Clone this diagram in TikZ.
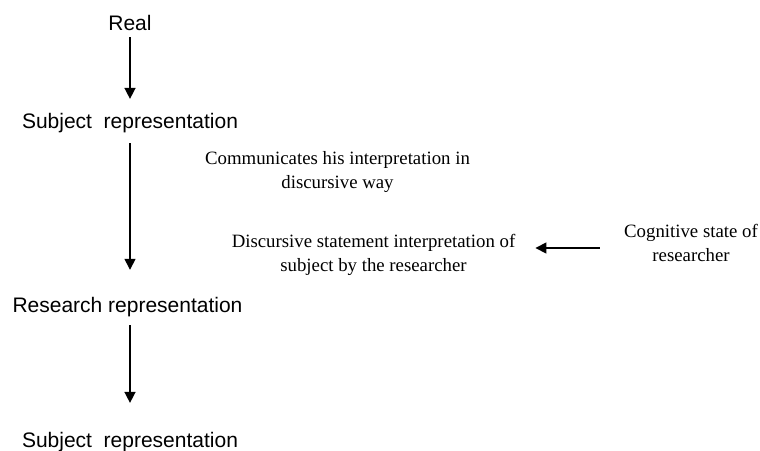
\documentclass[tikz,border=0pt]{standalone}
\usepackage{fontspec}
\setmainfont{Liberation Serif}
\newfontfamily\sansf{Liberation Sans}
\usetikzlibrary{arrows.meta}
\tikzset{
  sanslabel/.style={inner sep=0pt, anchor=base, font=\sansf\fontsize{21}{25}\selectfont},
  seriflabel/.style={inner sep=0pt, align=center, font=\fontsize{18.8}{24}\selectfont},
  arr/.style={line width=1.5pt, -{Triangle[width=11pt,length=11pt]}}
}
\begin{document}
\begin{tikzpicture}[x=1pt,y=-1pt]
\useasboundingbox (0,0) rectangle (760,450);
\node[sanslabel] (real) at (130,30) {Real};
\node[sanslabel] (s1) at (130,128) {Subject\ \ representation};
\node[sanslabel] (rr) at (127.5,312) {Research representation};
\node[sanslabel] (s2) at (130,447) {Subject\ \ representation};
\node[seriflabel] (comm) at (337.5,172.5) {Communicates his interpretation in\\discursive way};
\node[seriflabel] (disc) at (373.5,254.5) {Discursive statement interpretation of\\subject by the researcher};
\node[seriflabel] (cog) at (691,242.5) {Cognitive state of\\researcher};
\draw[arr, shorten <=7pt, shorten >=13.7pt] (real.south) -- (real.south |- s1.north);
\draw[arr, shorten <=10.6pt, shorten >=26.8pt] (s1.south) -- (s1.south |- rr.north);
\draw[arr, shorten <=8.6pt, shorten >=28.7pt] (s1.south |- rr.south) -- (s2.north);
\coordinate (ha) at ([yshift=-5.5pt]cog.west);
\draw[arr, shorten <=24pt, shorten >=20pt] (ha) -- (disc.east |- ha);
\end{tikzpicture}
\end{document}
